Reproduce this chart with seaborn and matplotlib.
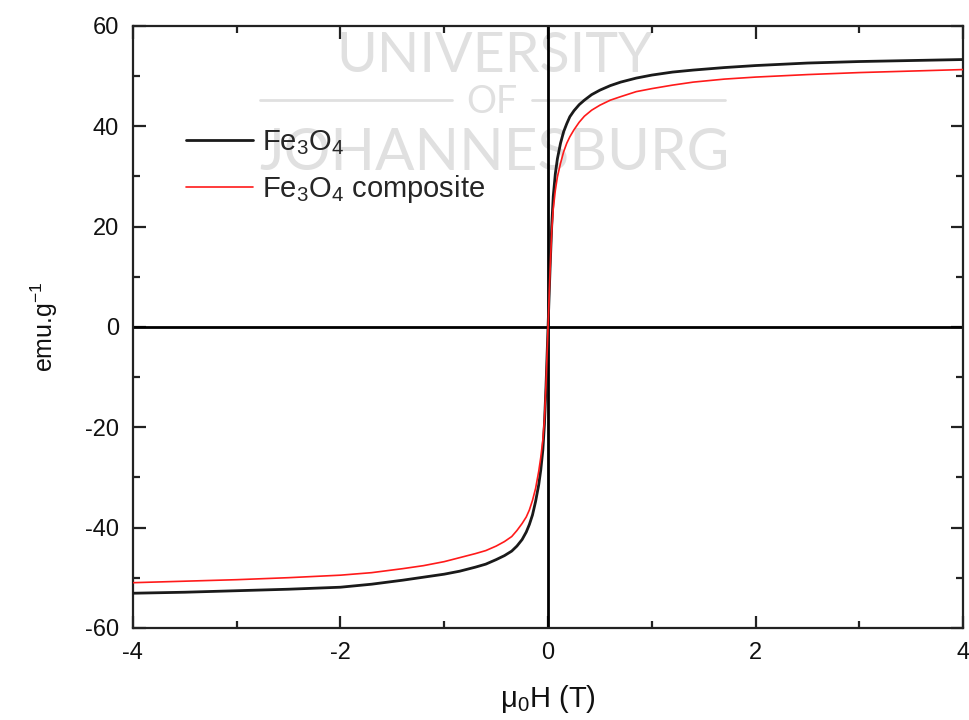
import matplotlib
matplotlib.use("Agg")
import matplotlib.pyplot as plt
from matplotlib.lines import Line2D
from matplotlib.ticker import MultipleLocator
import numpy as np
import pandas as pd
import seaborn as sns

# Applied field (T) and mass magnetisation (emu/g), ascending branch
field_fe3o4 = [-4.0, -3.5, -3.0, -2.5, -2.0, -1.7, -1.4, -1.2, -1.0, -0.85,
               -0.7, -0.6, -0.5, -0.42, -0.35, -0.3, -0.25, -0.21, -0.18,
               -0.15, -0.12, -0.09, -0.07, -0.05, -0.035, -0.02, -0.01, 0.0,
               0.01, 0.02, 0.035, 0.05, 0.07, 0.09, 0.12, 0.15, 0.18, 0.21,
               0.25, 0.3, 0.35, 0.42, 0.5, 0.6, 0.7, 0.85, 1.0, 1.2, 1.4, 1.7,
               2.0, 2.5, 3.0, 3.5, 4.0]
moment_fe3o4 = [-53.1, -52.9, -52.6, -52.3, -51.9, -51.3, -50.5, -49.9, -49.3,
                -48.7, -47.9, -47.3, -46.4, -45.6, -44.7, -43.7, -42.4, -40.9,
                -39.4, -37.5, -34.8, -31.5, -28.5, -24.5, -19.5, -12.0, -6.0,
                0.0, 6.0, 12.0, 20.0, 26.0, 30.5, 33.5, 36.6, 38.9, 40.5, 41.9,
                43.1, 44.3, 45.2, 46.3, 47.2, 48.1, 48.8, 49.6, 50.2, 50.8,
                51.2, 51.7, 52.1, 52.6, 52.9, 53.1, 53.3]

field_composite = [-4.0, -3.5, -3.0, -2.5, -2.0, -1.7, -1.4, -1.2, -1.0, -0.85,
                   -0.7, -0.6, -0.5, -0.42, -0.35, -0.3, -0.25, -0.21, -0.18,
                   -0.15, -0.12, -0.09, -0.07, -0.05, -0.035, -0.02, -0.01, 0.0,
                   0.01, 0.02, 0.035, 0.05, 0.07, 0.09, 0.12, 0.15, 0.18, 0.21,
                   0.25, 0.3, 0.35, 0.42, 0.5, 0.6, 0.7, 0.85, 1.0, 1.2, 1.4,
                   1.7, 2.0, 2.5, 3.0, 3.5, 4.0]
moment_composite = [-51.0, -50.7, -50.4, -50.0, -49.5, -49.0, -48.2, -47.6,
                    -46.8, -46.0, -45.2, -44.6, -43.7, -42.8, -41.8, -40.6,
                    -39.2, -37.9, -36.5, -34.6, -32.2, -28.8, -26.0, -22.5,
                    -18.5, -11.5, -5.8, 0.0, 5.8, 11.5, 19.0, 23.5, 27.2, 29.9,
                    32.6, 34.9, 36.6, 37.9, 39.3, 40.8, 42.0, 43.2, 44.2, 45.2,
                    45.9, 46.9, 47.5, 48.2, 48.8, 49.4, 49.8, 50.3, 50.7, 51.0,
                    51.3]

label_fe3o4 = "Fe$_3$O$_4$"
label_composite = "Fe$_3$O$_4$ composite"

x_ticks = [-4, -2, 0, 2, 4]
y_ticks = [-60, -40, -20, 0, 20, 40, 60]

sns.set_theme(style="ticks")
plt.rcParams["font.family"] = ["Liberation Sans", "DejaVu Sans"]
plt.rcParams["mathtext.fontset"] = "custom"
plt.rcParams["mathtext.rm"] = "Liberation Sans"
plt.rcParams["mathtext.it"] = "Liberation Sans:italic"
plt.rcParams["mathtext.bf"] = "Liberation Sans:bold"

df_a = pd.DataFrame({"H": field_fe3o4, "M": moment_fe3o4})
df_b = pd.DataFrame({"H": field_composite, "M": moment_composite})

fig = plt.figure(figsize=(9.7, 7.2), dpi=100)
ax = fig.add_axes([0.137, 0.128, 0.856, 0.836])
ax.set_facecolor("none")

# Light watermark behind the axes
wm_color = "#e0e0e0"
wm_family = ["Lato", "DejaVu Sans"]
fig.text(0.510, 0.9004, "UNIVERSITY", fontsize=40, color=wm_color,
         family=wm_family, ha="center", va="baseline", zorder=-5)
fig.text(0.507, 0.8426, "OF", fontsize=27, color=wm_color,
         family=wm_family, ha="center", va="baseline", zorder=-5)
fig.text(0.510, 0.764, "JOHANNESBURG", fontsize=42, color=wm_color,
         family=wm_family, ha="center", va="baseline", zorder=-5)
for x0, x1 in [(0.268, 0.466), (0.548, 0.747)]:
    fig.add_artist(Line2D([x0, x1], [0.861, 0.861], color=wm_color,
                          lw=2, zorder=-5, transform=fig.transFigure))

ax.axhline(0, color="black", lw=2, zorder=1)
ax.axvline(0, color="black", lw=2, zorder=1)

sns.lineplot(data=df_a, x="H", y="M", ax=ax, sort=False, estimator=None,
             color="#1a1a1a", lw=2.0, label=label_fe3o4, zorder=3)
sns.lineplot(data=df_b, x="H", y="M", ax=ax, sort=False, estimator=None,
             color="#ff1a1a", lw=1.2, label=label_composite, zorder=4)

ax.set_xlim(-4, 4)
ax.set_ylim(-60, 60)
ax.set_xticks(x_ticks)
ax.set_yticks(y_ticks)
ax.set_xticklabels([str(v) for v in x_ticks])
ax.set_yticklabels([str(v) for v in y_ticks])
ax.xaxis.set_minor_locator(MultipleLocator(1))
ax.yaxis.set_minor_locator(MultipleLocator(10))

for side in ["left", "right", "top", "bottom"]:
    ax.spines[side].set_visible(True)
    ax.spines[side].set_linewidth(1.6)
    ax.spines[side].set_color("#222222")

ax.tick_params(which="both", direction="in", top=True, right=True,
               color="#222222", width=1.6)
ax.tick_params(which="major", length=9, labelsize=17, pad=10,
               labelcolor="#111111")
ax.tick_params(which="minor", length=5)

ax.set_xlabel("μ$_0$H (T)", fontsize=21, labelpad=14, color="#111111")
ax.set_ylabel("emu.g$^{-1}$", fontsize=18, labelpad=18, color="#111111")

leg = ax.legend(loc="upper left", bbox_to_anchor=(0.05, 0.85), frameon=False,
                fontsize=21, handlelength=2.3, handletextpad=0.3,
                labelspacing=0.55, borderaxespad=0)

fig.savefig("out.png", dpi=100)
